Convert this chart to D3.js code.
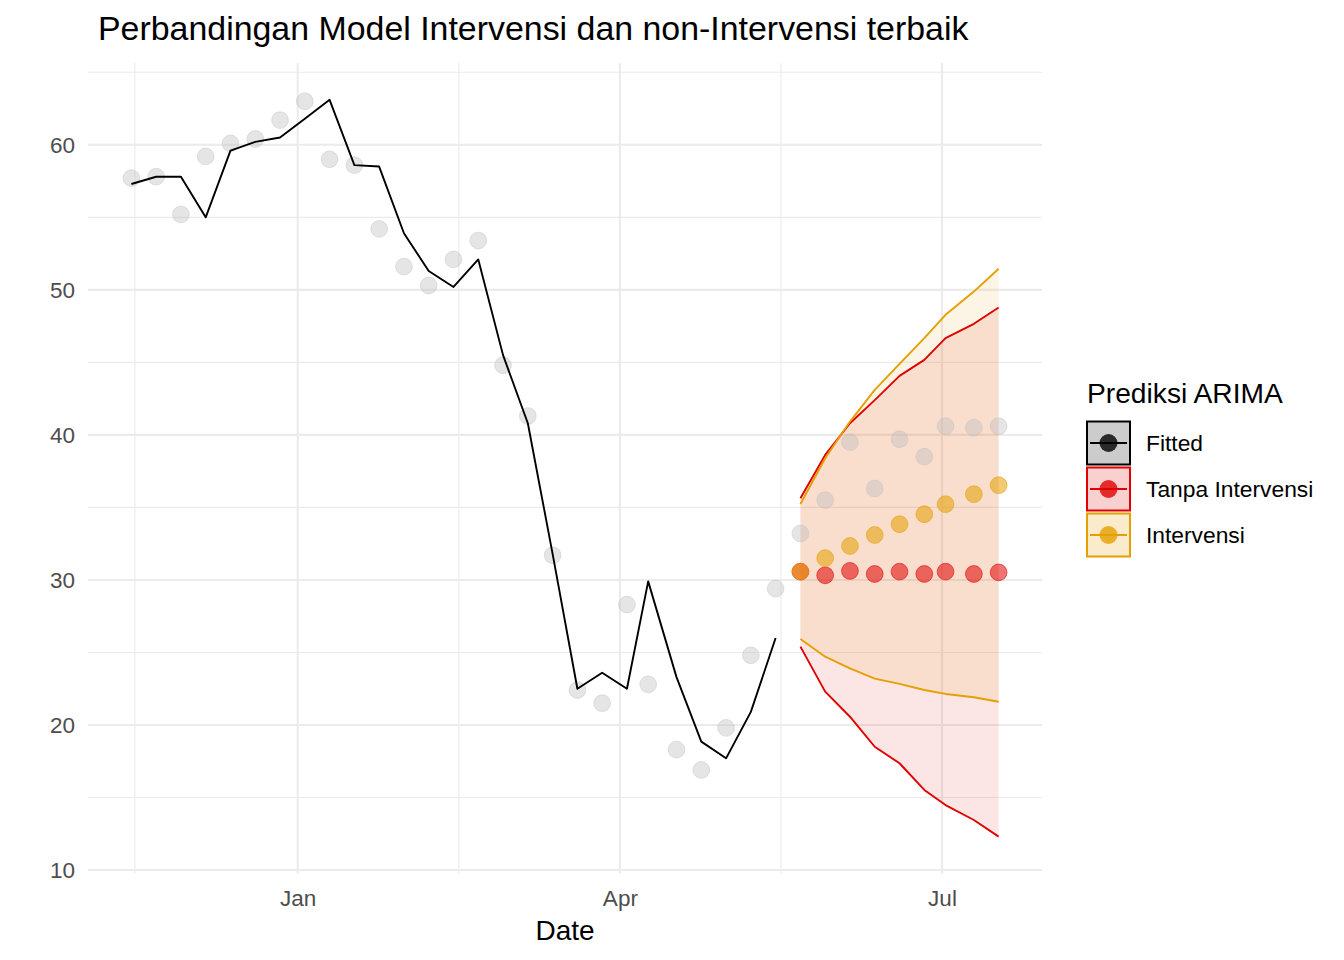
<!DOCTYPE html>
<html><head><meta charset="utf-8">
<script src="https://cdn.jsdelivr.net/npm/d3@7"></script>
<style>
body{margin:0;background:#fff}
svg{display:block}
text{font-family:"Liberation Sans",Arial,sans-serif}
</style>
</head><body>
<svg id="chart" width="1344" height="960"></svg>
<script>
// ---------------- data ----------------
const actualDates = [
  "2023-11-15","2023-11-22","2023-11-29","2023-12-06","2023-12-13","2023-12-20","2023-12-27",
  "2024-01-03","2024-01-10","2024-01-17","2024-01-24","2024-01-31","2024-02-07","2024-02-14",
  "2024-02-21","2024-02-28","2024-03-06","2024-03-13","2024-03-20","2024-03-27","2024-04-03",
  "2024-04-09","2024-04-17","2024-04-24","2024-05-01","2024-05-08","2024-05-15","2024-05-22",
  "2024-05-29","2024-06-05","2024-06-12","2024-06-19","2024-06-26","2024-07-02","2024-07-10",
  "2024-07-17"
];
const actualValues = [
  57.7, 57.8, 55.2, 59.2, 60.1, 60.4, 61.7, 63.0, 59.0, 58.6, 54.2, 51.6, 50.3, 52.1,
  53.4, 44.8, 41.3, 31.7, 22.4, 21.5, 28.3, 22.8, 18.3, 16.9, 19.8, 24.8, 29.4, 33.2,
  35.5, 39.5, 36.3, 39.7, 38.5, 40.6, 40.5, 40.6
];
const fittedValues = [
  57.3, 57.8, 57.8, 55.0, 59.6, 60.2, 60.5, 61.8, 63.1, 58.6, 58.5, 53.9, 51.3, 50.2,
  52.1, 45.5, 40.8, 31.8, 22.5, 23.6, 22.5, 29.9, 23.3, 18.85, 17.7, 20.9, 26.0
];
const forecastDates = [
  "2024-05-22","2024-05-29","2024-06-05","2024-06-12","2024-06-19","2024-06-26",
  "2024-07-02","2024-07-10","2024-07-17"
];
const tanpaMean  = [30.57, 30.32, 30.62, 30.41, 30.57, 30.41, 30.57, 30.41, 30.52];
const tanpaLower = [25.40, 22.30, 20.57, 18.50, 17.36, 15.52, 14.48, 13.45, 12.30];
const tanpaUpper = [35.63, 38.62, 40.80, 42.40, 44.07, 45.17, 46.67, 47.66, 48.78];
const intervMean  = [30.57, 31.50, 32.34, 33.10, 33.84, 34.53, 35.22, 35.91, 36.53];
const intervLower = [25.93, 24.71, 23.90, 23.20, 22.83, 22.41, 22.14, 21.91, 21.60];
const intervUpper = [35.24, 38.39, 40.92, 43.10, 44.90, 46.67, 48.28, 49.88, 51.45];

const yTickValues = [10, 20, 30, 40, 50, 60];
const xTickFormat = "%b";
const titleText = "Perbandingan Model Intervensi dan non-Intervensi terbaik";
const xTitleText = "Date";
const legendTitle = "Prediksi ARIMA";
const legendLabels = ["Fitted", "Tanpa Intervensi", "Intervensi"];
const legendColors = ["#000000", "#E00000", "#E69F00"];
const greyColor = "#BEBEBE";

// ---------------- layout ----------------
const P = {left: 88, right: 1042, top: 63, bottom: 873.5};
const svg = d3.select("#chart");
const font = '"Liberation Sans", Arial, sans-serif';

const parse = d3.utcParse("%Y-%m-%d");
const aD = actualDates.map(parse);
const fD = forecastDates.map(parse);

const dExt = d3.extent(aD.concat(fD));
const span = dExt[1] - dExt[0];
const x = d3.scaleUtc()
  .domain([new Date(+dExt[0] - 0.05 * span), new Date(+dExt[1] + 0.05 * span)])
  .range([P.left, P.right]);

const allY = actualValues.concat(fittedValues, tanpaLower, tanpaUpper, intervLower, intervUpper);
const yExt = d3.extent(allY);
const ySpan = yExt[1] - yExt[0];
const y = d3.scaleLinear()
  .domain([yExt[0] - 0.05 * ySpan, yExt[1] + 0.05 * ySpan])
  .range([P.bottom, P.top]);

// ---------------- grid ----------------
const grid = svg.append("g");
const xd = x.domain();
const monthsAll = d3.utcMonth.every(3).range(new Date(+xd[0] - 120*864e5), new Date(+xd[1] + 120*864e5));
const inX = d => d >= xd[0] && d <= xd[1];
const xMajor = monthsAll.filter(inX);
const xMinor = d3.pairs(monthsAll).map(([a, b]) => new Date((+a + +b) / 2)).filter(inX);
const yd = y.domain();
const yMinor = d3.range(5, 80, 10).filter(v => v >= yd[0] && v <= yd[1]);
const yMajor = yTickValues.filter(v => v >= yd[0] && v <= yd[1]);

grid.selectAll(".ymin").data(yMinor).join("line")
  .attr("x1", P.left).attr("x2", P.right).attr("y1", d => y(d)).attr("y2", d => y(d))
  .attr("stroke", "#EBEBEB").attr("stroke-width", 1.1);
grid.selectAll(".xmin").data(xMinor).join("line")
  .attr("y1", P.top).attr("y2", P.bottom).attr("x1", d => x(d)).attr("x2", d => x(d))
  .attr("stroke", "#EBEBEB").attr("stroke-width", 1.1);
grid.selectAll(".ymaj").data(yMajor).join("line")
  .attr("x1", P.left).attr("x2", P.right).attr("y1", d => y(d)).attr("y2", d => y(d))
  .attr("stroke", "#EBEBEB").attr("stroke-width", 2.1);
grid.selectAll(".xmaj").data(xMajor).join("line")
  .attr("y1", P.top).attr("y2", P.bottom).attr("x1", d => x(d)).attr("x2", d => x(d))
  .attr("stroke", "#EBEBEB").attr("stroke-width", 2.1);

// ---------------- ribbons ----------------
const fc = fD.map((d, i) => ({d, tm: tanpaMean[i], tl: tanpaLower[i], tu: tanpaUpper[i],
  im: intervMean[i], il: intervLower[i], iu: intervUpper[i]}));

const area = (lo, hi) => d3.area().x(d => x(d.d)).y0(d => y(d[lo])).y1(d => y(d[hi]));
svg.append("path").attr("d", area("tl", "tu")(fc))
  .attr("fill", legendColors[1]).attr("fill-opacity", 0.1);
svg.append("path").attr("d", area("il", "iu")(fc))
  .attr("fill", legendColors[2]).attr("fill-opacity", 0.1);

// ---------------- actual points ----------------
const actual = aD.map((d, i) => ({d, v: actualValues[i]}));
svg.append("g").selectAll("circle").data(actual).join("circle")
  .attr("cx", d => x(d.d)).attr("cy", d => y(d.v)).attr("r", 8.4)
  .attr("fill", greyColor).attr("fill-opacity", 0.4)
  .attr("stroke", greyColor).attr("stroke-opacity", 0.4).attr("stroke-width", 1);

// ---------------- fitted line ----------------
const fitted = fittedValues.map((v, i) => ({d: aD[i], v}));
const line = d3.line().x(d => x(d.d)).y(d => y(d.v));
svg.append("path").attr("d", line(fitted))
  .attr("fill", "none").attr("stroke", legendColors[0]).attr("stroke-width", 1.9)
  .attr("stroke-linejoin", "round");

// ---------------- bound lines ----------------
const bline = key => d3.line().x(d => x(d.d)).y(d => y(d[key]))(fc);
[["tu", 1], ["tl", 1], ["iu", 2], ["il", 2]].forEach(([k, c]) => {
  svg.append("path").attr("d", bline(k)).attr("fill", "none")
    .attr("stroke", legendColors[c]).attr("stroke-width", 1.9).attr("stroke-linejoin", "round");
});

// ---------------- forecast points ----------------
[["tm", 1], ["im", 2]].forEach(([k, c]) => {
  svg.append("g").selectAll("circle").data(fc).join("circle")
    .attr("cx", d => x(d.d)).attr("cy", d => y(d[k])).attr("r", 8.4)
    .attr("fill", legendColors[c]).attr("fill-opacity", 0.55)
    .attr("stroke", legendColors[c]).attr("stroke-opacity", 0.55).attr("stroke-width", 1);
});

// ---------------- axes ----------------
const xAxis = svg.append("g").attr("transform", `translate(0,${P.bottom})`)
  .call(d3.axisBottom(x).tickValues(xMajor).tickFormat(d3.utcFormat(xTickFormat))
    .tickSize(0).tickPadding(16.5));
xAxis.select(".domain").remove();
xAxis.selectAll("text").attr("font-size", 22.5).attr("fill", "#4D4D4D").attr("font-family", font);

const yAxis = svg.append("g").attr("transform", `translate(${P.left},0)`)
  .call(d3.axisLeft(y).tickValues(yMajor).tickSize(0).tickPadding(13));
yAxis.select(".domain").remove();
yAxis.selectAll("text").attr("font-size", 22.5).attr("fill", "#4D4D4D").attr("font-family", font);

// ---------------- titles ----------------
svg.append("text").attr("x", 98).attr("y", 40).text(titleText)
  .attr("font-size", 33.9).attr("fill", "#000");
svg.append("text").attr("x", (P.left + P.right) / 2).attr("y", 940).attr("text-anchor", "middle")
  .text(xTitleText).attr("font-size", 28).attr("fill", "#000");

// ---------------- legend ----------------
const lg = svg.append("g");
lg.append("text").attr("x", 1087).attr("y", 403).text(legendTitle)
  .attr("font-size", 28.2).attr("fill", "#000");
const keyFill = ["#CCCCCC", "#F9D0D0", "#FAEBCC"];
legendLabels.forEach((lab, i) => {
  const top = 421.5 + i * 46, size = 43, cx = 1087 + size / 2, cy = top + size / 2;
  lg.append("rect").attr("x", 1087).attr("y", top).attr("width", size).attr("height", size)
    .attr("fill", keyFill[i]).attr("stroke", legendColors[i]).attr("stroke-width", 2);
  lg.append("line").attr("x1", 1090).attr("x2", 1127).attr("y1", cy).attr("y2", cy)
    .attr("stroke", legendColors[i]).attr("stroke-width", 1.9);
  lg.append("circle").attr("cx", cx).attr("cy", cy).attr("r", 9)
    .attr("fill", legendColors[i]).attr("fill-opacity", 0.8);
  lg.append("text").attr("x", 1146).attr("y", cy + 8).text(lab)
    .attr("font-size", 22.8).attr("fill", "#000");
});
</script>
</body></html>
